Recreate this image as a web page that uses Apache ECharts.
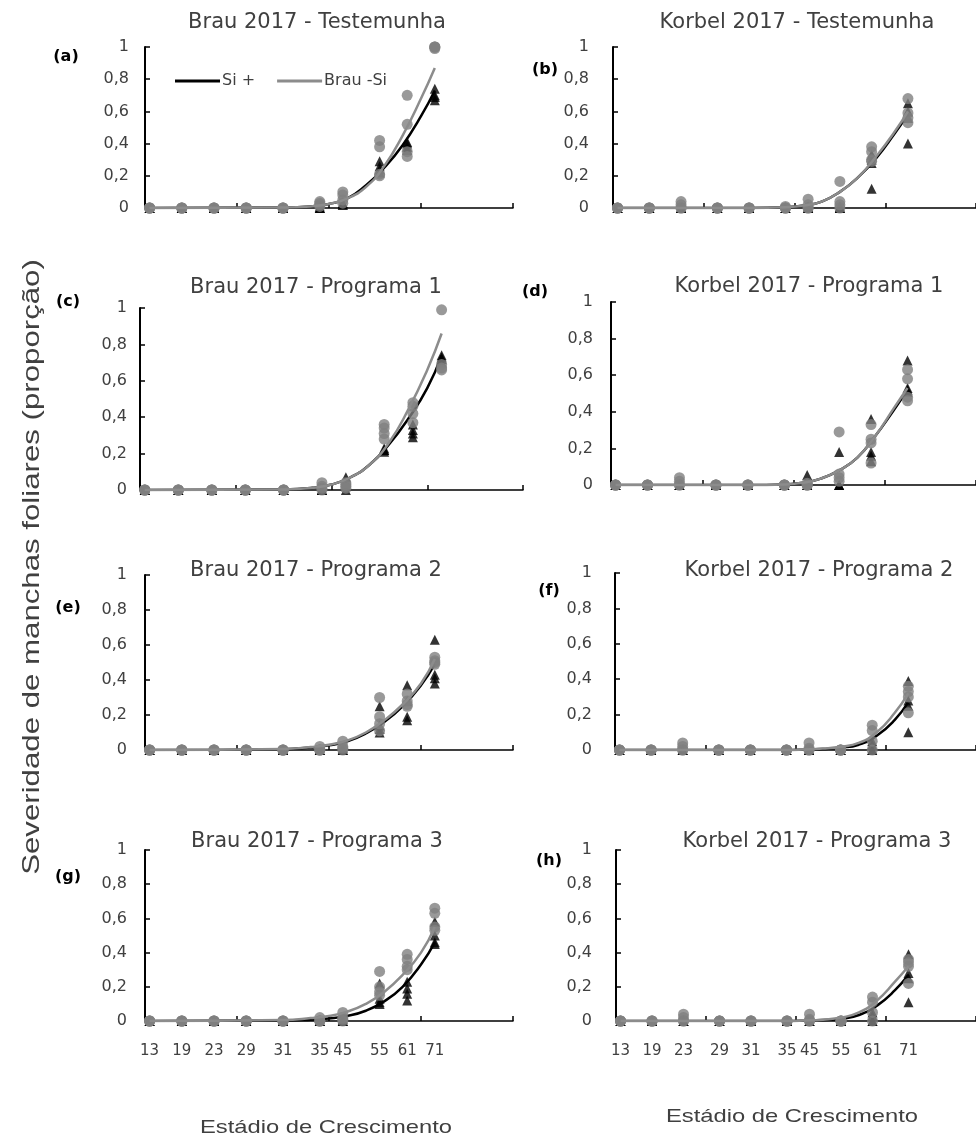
<!DOCTYPE html>
<html>
<head>
<meta charset="utf-8">
<script src="https://cdn.jsdelivr.net/npm/echarts@6/dist/echarts.min.js"></script>
<style>
  html, body { margin: 0; padding: 0; background: #ffffff; }
  #chart { width: 976px; height: 1140px; }
</style>
</head>
<body>
<div id="chart"></div>
<script>
// Growth stages (x labels) and the assessment day of each stage per site
const stageLabels = ['13', '19', '23', '29', '31', '35', '45', '55', '61', '71'];
const brauDays = [1, 8, 15, 22, 30, 38, 43, 51, 57, 63];
const korbelDays = [1, 8, 15, 23, 30, 38, 43, 50, 57, 65];
// Days at which the fitted progress curves are sampled
const brauFitDays = [1, 30, 36, 40, 44, 48, 52, 56, 60, 63];
const korbelFitDays = [1, 30, 38, 42, 46, 50, 54, 58, 62, 65];
const zeros = [0, 0, 0, 0];

// (a) Brau 2017 - Testemunha
const aSiPlus = [zeros, zeros, zeros, zeros, zeros, [0, 0, 0.01, 0], [0.02, 0.03, 0.02, 0.03], [0.29, 0.26, 0.24, 0.22], [0.40, 0.38, 0.36, 0.41], [0.74, 0.69, 0.67, 0.70]];
const aBrauSi = [zeros, zeros, zeros, zeros, zeros, [0.03, 0.01, 0.02, 0.04], [0.10, 0.05, 0.03, 0.08], [0.42, 0.38, 0.21, 0.20], [0.70, 0.52, 0.35, 0.32], [1.0, 1.0, 0.99, 1.0]];
const aSiFit = [0, 0.003, 0.01, 0.025, 0.06, 0.14, 0.25, 0.39, 0.57, 0.73];
const aBrauFit = [0, 0.003, 0.01, 0.025, 0.06, 0.13, 0.26, 0.45, 0.68, 0.87];

// (b) Korbel 2017 - Testemunha
const bSiPlus = [zeros, zeros, zeros, zeros, zeros, zeros, [0, 0, 0.01, 0], [0, 0, 0.01, 0], [0.12, 0.30, 0.28, 0.33], [0.40, 0.60, 0.56, 0.65]];
const bBrauSi = [zeros, zeros, [0.04, 0.02, 0, 0], zeros, zeros, [0, 0, 0.01, 0], [0.055, 0.02, 0, 0], [0.165, 0.04, 0.02, 0], [0.38, 0.35, 0.29, 0.30], [0.68, 0.59, 0.56, 0.53]];
const bSiFit = [0, 0, 0.005, 0.015, 0.04, 0.10, 0.19, 0.31, 0.46, 0.58];
const bBrauFit = [0, 0, 0.005, 0.015, 0.04, 0.10, 0.19, 0.32, 0.47, 0.60];

// (c) Brau 2017 - Programa 1
const cSiPlus = [zeros, zeros, zeros, zeros, zeros, zeros, [0.07, 0.04, 0, 0.02], [0.21, 0.22, 0.23, 0.22], [0.31, 0.29, 0.36, 0.33], [0.73, 0.70, 0.72, 0.74]];
const cBrauSi = [zeros, zeros, zeros, zeros, zeros, [0.04, 0.02, 0, 0.01], [0.04, 0.03, 0.02, 0.01], [0.36, 0.34, 0.31, 0.28], [0.48, 0.46, 0.42, 0.37], [0.99, 0.67, 0.69, 0.66]];
const cSiFit = [0, 0.003, 0.012, 0.03, 0.07, 0.14, 0.25, 0.39, 0.56, 0.74];
const cBrauFit = [0, 0.003, 0.012, 0.03, 0.07, 0.14, 0.26, 0.44, 0.66, 0.86];

// (d) Korbel 2017 - Programa 1
const dSiPlus = [zeros, zeros, zeros, zeros, zeros, zeros, [0.055, 0, 0, 0], [0.18, 0, 0, 0], [0.36, 0.16, 0.13, 0.18], [0.68, 0.51, 0.53, 0.52]];
const dBrauSi = [zeros, zeros, [0.04, 0.02, 0, 0], zeros, zeros, zeros, [0.01, 0, 0, 0], [0.29, 0.06, 0.04, 0.02], [0.33, 0.23, 0.12, 0.25], [0.63, 0.58, 0.48, 0.46]];
const dSiFit = [0, 0, 0.003, 0.012, 0.035, 0.08, 0.15, 0.27, 0.41, 0.52];
const dBrauFit = [0, 0, 0.003, 0.012, 0.035, 0.08, 0.15, 0.27, 0.42, 0.53];

// (e) Brau 2017 - Programa 2
const eSiPlus = [zeros, zeros, zeros, zeros, zeros, zeros, [0.01, 0, 0, 0], [0.25, 0.12, 0.10, 0.14], [0.37, 0.19, 0.17, 0.28], [0.63, 0.41, 0.38, 0.43]];
const eBrauSi = [zeros, zeros, zeros, zeros, zeros, [0.02, 0, 0, 0], [0.05, 0.01, 0.02, 0], [0.30, 0.19, 0.15, 0.11], [0.32, 0.28, 0.25, 0.26], [0.53, 0.50, 0.49, 0.51]];
const eSiFit = [0, 0.005, 0.014, 0.027, 0.05, 0.095, 0.16, 0.25, 0.37, 0.49];
const eBrauFit = [0, 0.006, 0.017, 0.03, 0.055, 0.10, 0.17, 0.26, 0.38, 0.52];

// (f) Korbel 2017 - Programa 2
const fSiPlus = [zeros, zeros, zeros, zeros, zeros, zeros, zeros, zeros, [0.05, 0, 0.03, 0], [0.39, 0.10, 0.25, 0.28]];
const fBrauSi = [zeros, zeros, [0.04, 0.02, 0, 0], zeros, zeros, zeros, [0.04, 0.01, 0, 0], zeros, [0.14, 0, 0.11, 0.05], [0.36, 0.30, 0.21, 0.33]];
const fSiFit = [0, 0, 0, 0.002, 0.006, 0.013, 0.03, 0.08, 0.17, 0.27];
const fBrauFit = [0, 0, 0, 0.003, 0.008, 0.018, 0.04, 0.10, 0.21, 0.32];

// (g) Brau 2017 - Programa 3
const gSiPlus = [zeros, zeros, zeros, zeros, zeros, zeros, [0.01, 0, 0, 0], [0.22, 0.11, 0.10, 0.13], [0.23, 0.16, 0.12, 0.19], [0.58, 0.45, 0.46, 0.50]];
const gBrauSi = [zeros, zeros, zeros, zeros, zeros, [0.02, 0, 0, 0], [0.05, 0.02, 0.01, 0], [0.29, 0.20, 0.17, 0.15], [0.39, 0.36, 0.32, 0.30], [0.66, 0.63, 0.53, 0.55]];
const gSiFit = [0, 0.003, 0.008, 0.015, 0.03, 0.06, 0.115, 0.20, 0.33, 0.46];
const gBrauFit = [0, 0.006, 0.017, 0.03, 0.055, 0.10, 0.17, 0.27, 0.40, 0.55];

// (h) Korbel 2017 - Programa 3
const hSiPlus = [zeros, zeros, zeros, zeros, zeros, zeros, zeros, zeros, [0.05, 0, 0.03, 0], [0.39, 0.11, 0.28, 0.25]];
const hBrauSi = [zeros, zeros, [0.04, 0.02, 0, 0], zeros, zeros, zeros, [0.04, 0.01, 0, 0], zeros, [0.14, 0.11, 0, 0.05], [0.36, 0.32, 0.22, 0.34]];
const hSiFit = [0, 0, 0, 0.002, 0.006, 0.013, 0.035, 0.09, 0.18, 0.27];
const hBrauFit = [0, 0, 0, 0.003, 0.008, 0.02, 0.05, 0.12, 0.23, 0.32];

const brau = { days: brauDays, fitDays: brauFitDays };
const korbel = { days: korbelDays, fitDays: korbelFitDays };

const panels = [
  { site: brau, letter: '(a)', title: 'Brau 2017 - Testemunha', si: aSiPlus, brau: aBrauSi, siFit: aSiFit, brauFit: aBrauFit },
  { site: korbel, letter: '(b)', title: 'Korbel 2017 - Testemunha', si: bSiPlus, brau: bBrauSi, siFit: bSiFit, brauFit: bBrauFit },
  { site: brau, letter: '(c)', title: 'Brau 2017 - Programa 1', si: cSiPlus, brau: cBrauSi, siFit: cSiFit, brauFit: cBrauFit },
  { site: korbel, letter: '(d)', title: 'Korbel 2017 - Programa 1', si: dSiPlus, brau: dBrauSi, siFit: dSiFit, brauFit: dBrauFit },
  { site: brau, letter: '(e)', title: 'Brau 2017 - Programa 2', si: eSiPlus, brau: eBrauSi, siFit: eSiFit, brauFit: eBrauFit },
  { site: korbel, letter: '(f)', title: 'Korbel 2017 - Programa 2', si: fSiPlus, brau: fBrauSi, siFit: fSiFit, brauFit: fBrauFit },
  { site: brau, letter: '(g)', title: 'Brau 2017 - Programa 3', si: gSiPlus, brau: gBrauSi, siFit: gSiFit, brauFit: gBrauFit },
  { site: korbel, letter: '(h)', title: 'Korbel 2017 - Programa 3', si: hSiPlus, brau: hBrauSi, siFit: hSiFit, brauFit: hBrauFit }
];

// Plot-area placement of each panel, title centre, letter centre, y-label gap
const layout = [
  { grid: { left: 145, top: 47, width: 368, height: 161 }, title: [317, 23], letter: [66, 57], gap: 16 },
  { grid: { left: 613, top: 47, width: 368, height: 161 }, title: [797, 23], letter: [545, 70], gap: 24 },
  { grid: { left: 140, top: 308, width: 383, height: 182 }, title: [316, 288], letter: [68, 302], gap: 13 },
  { grid: { left: 611, top: 302, width: 368, height: 183 }, title: [809, 287], letter: [535, 292], gap: 18 },
  { grid: { left: 145, top: 575, width: 368, height: 175 }, title: [316, 571], letter: [68, 608], gap: 18 },
  { grid: { left: 615, top: 573, width: 368, height: 177 }, title: [819, 571], letter: [549, 591], gap: 23 },
  { grid: { left: 145, top: 850, width: 368, height: 171 }, title: [317, 842], letter: [68, 877], gap: 18 },
  { grid: { left: 616, top: 850, width: 368, height: 171 }, title: [817, 842], letter: [549, 861], gap: 24 }
];

const TEXT = '#404040';
const GREY_LINE = '#8c8c8c';
const GREY_DOT = '#808080';
const FONT = 'DejaVu Sans';

function points(days, reps) {
  const out = [];
  reps.forEach((vals, k) => vals.forEach(v => out.push([days[k], v])));
  return out;
}

const grids = [], xAxes = [], yAxes = [], series = [], graphics = [];

panels.forEach((p, i) => {
  const L = layout[i];
  const days = p.site.days;
  const fitDays = p.site.fitDays;
  const bottomRow = i >= 6;
  grids.push(Object.assign({ containLabel: false }, L.grid));

  xAxes.push({
    type: 'value', gridIndex: i, min: 0, max: 80, interval: 20,
    axisLine: { show: true, onZero: true, lineStyle: { color: '#000', width: 1.5 } },
    axisTick: { show: true, inside: true, length: 5, customValues: [0, 20, 40, 60, 80], lineStyle: { color: '#000', width: 1.5 } },
    axisLabel: {
      show: bottomRow, customValues: days, margin: 23,
      color: TEXT, fontFamily: FONT, fontSize: 15,
      formatter: v => stageLabels[days.indexOf(v)] || ''
    },
    splitLine: { show: false }
  });

  yAxes.push({
    type: 'value', gridIndex: i, min: 0, max: 1, interval: 0.2,
    axisLine: { show: true, lineStyle: { color: '#000', width: 2 } },
    axisTick: { show: true, inside: true, length: 5, lineStyle: { color: '#000', width: 1.5 } },
    axisLabel: {
      margin: L.gap, color: TEXT, fontFamily: FONT, fontSize: 16,
      formatter: v => String(Math.round(v * 10) / 10).replace('.', ',')
    },
    splitLine: { show: false }
  });

  series.push({
    name: 'Si + obs', type: 'scatter', xAxisIndex: i, yAxisIndex: i,
    symbol: 'triangle', symbolSize: 10, itemStyle: { color: '#000' },
    data: points(days, p.si), z: 2, silent: true
  });
  series.push({
    name: 'Si +', type: 'line', xAxisIndex: i, yAxisIndex: i,
    data: fitDays.map((d, k) => [d, p.siFit[k]]),
    smooth: 0.5, showSymbol: false, symbol: 'none',
    lineStyle: { color: '#000', width: 2.5 }, itemStyle: { color: '#000' }, z: 3, silent: true
  });
  series.push({
    name: 'Brau -Si obs', type: 'scatter', xAxisIndex: i, yAxisIndex: i,
    symbol: 'circle', symbolSize: 11, itemStyle: { color: GREY_DOT },
    data: points(days, p.brau), z: 4, silent: true
  });
  series.push({
    name: 'Brau -Si', type: 'line', xAxisIndex: i, yAxisIndex: i,
    data: fitDays.map((d, k) => [d, p.brauFit[k]]),
    smooth: 0.5, showSymbol: false, symbol: 'none',
    lineStyle: { color: GREY_LINE, width: 2.5 }, itemStyle: { color: GREY_LINE }, z: 5, silent: true
  });

  graphics.push({
    type: 'text', x: L.title[0], y: L.title[1],
    style: { text: p.title, fill: TEXT, font: '21px "' + FONT + '"', align: 'center', verticalAlign: 'middle' }
  });
  graphics.push({
    type: 'text', x: L.letter[0], y: L.letter[1],
    style: { text: p.letter, fill: '#000', font: 'bold 16px "' + FONT + '"', align: 'center', verticalAlign: 'middle' }
  });
});

// Shared axis titles
graphics.push({
  type: 'text', x: 32, y: 567, rotation: Math.PI / 2, scaleX: 1.3, scaleY: 1,
  style: { text: 'Severidade de manchas foliares (proporção)', fill: TEXT, font: '24px "Liberation Sans"', align: 'center', verticalAlign: 'middle' }
});
graphics.push({
  type: 'text', x: 326, y: 1128, scaleX: 1.25, scaleY: 1,
  style: { text: 'Estádio de Crescimento', fill: TEXT, font: '19px "Liberation Sans"', align: 'center', verticalAlign: 'middle' }
});
graphics.push({
  type: 'text', x: 792, y: 1117, scaleX: 1.25, scaleY: 1,
  style: { text: 'Estádio de Crescimento', fill: TEXT, font: '19px "Liberation Sans"', align: 'center', verticalAlign: 'middle' }
});

const chart = echarts.init(document.getElementById('chart'), null, { renderer: 'canvas' });
chart.setOption({
  animation: false,
  backgroundColor: '#ffffff',
  legend: {
    data: [{ name: 'Si +', icon: 'rect' }, { name: 'Brau -Si', icon: 'rect' }],
    left: 170, top: 68, itemWidth: 45, itemHeight: 3, itemGap: 22,
    selectedMode: false,
    textStyle: { color: TEXT, fontFamily: FONT, fontSize: 16, padding: [0, 0, 0, -3] }
  },
  grid: grids,
  xAxis: xAxes,
  yAxis: yAxes,
  series: series,
  graphic: graphics
});
</script>
</body>
</html>
